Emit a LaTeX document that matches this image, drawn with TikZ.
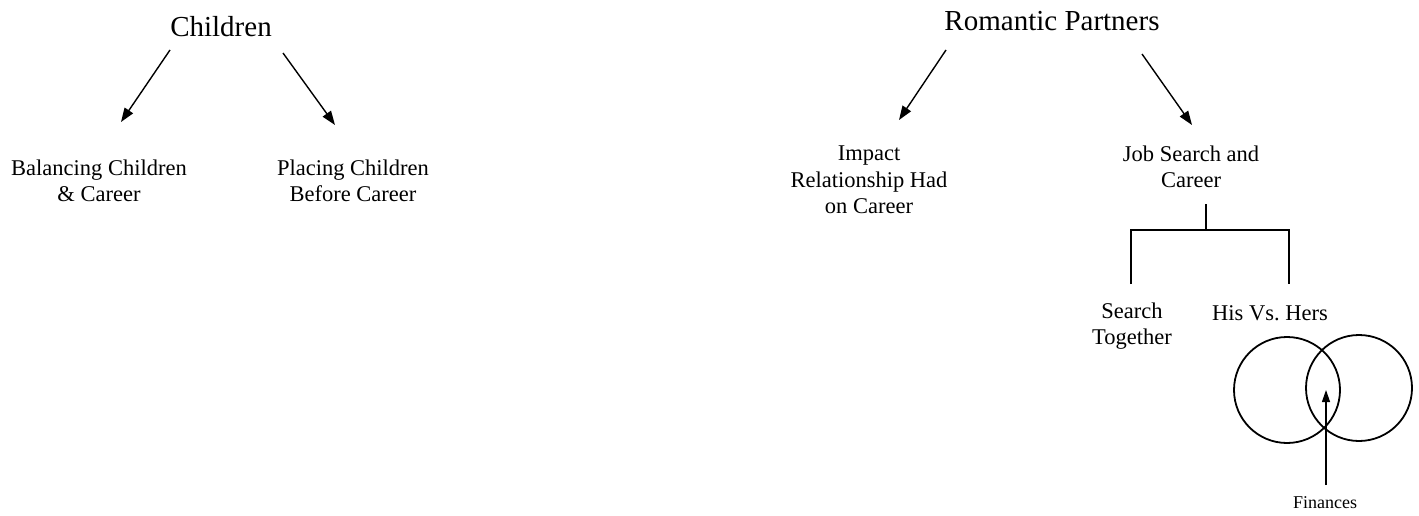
\documentclass[tikz,border=0pt]{standalone}
\usepackage{fontspec}
\setmainfont{Liberation Serif}
\usetikzlibrary{arrows.meta}
\begin{document}
\begin{tikzpicture}[x=1pt,y=-1pt,
  title/.style={inner sep=0pt,font=\fontsize{29}{33}\selectfont},
  label/.style={inner sep=0pt,align=center,font=\fontsize{22.5}{26.5}\selectfont},
  small/.style={inner sep=0pt,font=\fontsize{18}{21}\selectfont},
  arr/.style={line width=1.4pt,-{Triangle[length=14pt,width=10pt]}},
  ln/.style={line width=1.4pt},
  ring/.style={circle,draw,line width=1.8pt,minimum size=106pt,inner sep=0pt}]
\useasboundingbox (0,0) rectangle (1419,516);
% left tree
\node[title] (children) at (221,27) {Children};
\node[label] (bal) at (99,181) {Balancing Children\\\& Career};
\node[label] (plc) at (353,181) {Placing Children\\Before Career};
\coordinate (c1s) at (170,50); \coordinate (c1e) at (121,122);
\coordinate (c2s) at (283,53); \coordinate (c2e) at (335,125);
\draw[arr] (c1s) -- (c1e);
\draw[arr] (c2s) -- (c2e);
% right tree
\node[title] (rom) at (1052,21) {Romantic Partners};
\node[label] (imp) at (869,180) {Impact\\Relationship Had\\on Career};
\node[label] (job) at (1191,167) {Job Search and\\Career};
\coordinate (r1s) at (946,50); \coordinate (r1e) at (899,120);
\coordinate (r2s) at (1142,54); \coordinate (r2e) at (1192,125);
\draw[arr] (r1s) -- (r1e);
\draw[arr] (r2s) -- (r2e);
% bracket
\coordinate (bt) at (1206,204);
\coordinate (bm) at (1206,230);
\coordinate (bl) at (1131,230);
\coordinate (br) at (1289,230);
\coordinate (bld) at (1131,284);
\coordinate (brd) at (1289,284);
\draw[ln] (bt) -- (bm);
\draw[ln] (bld) -- (bl) -- (br) -- (brd);
\node[label] (srch) at (1132,326) {Search\\Together};
\node[label] (his) at (1270,313) {His Vs.\ Hers};
% venn
\node[ring] (lc) at (1287,390) {};
\node[ring] (rc) at (1359,388) {};
\node[small] (fin) at (1325,503) {Finances};
\coordinate (fa) at (1326,485);
\coordinate (fb) at (1326,390);
\draw[line width=1.2pt,-{Triangle[length=12pt,width=8pt]}] (fa) -- (fb);
\end{tikzpicture}
\end{document}
